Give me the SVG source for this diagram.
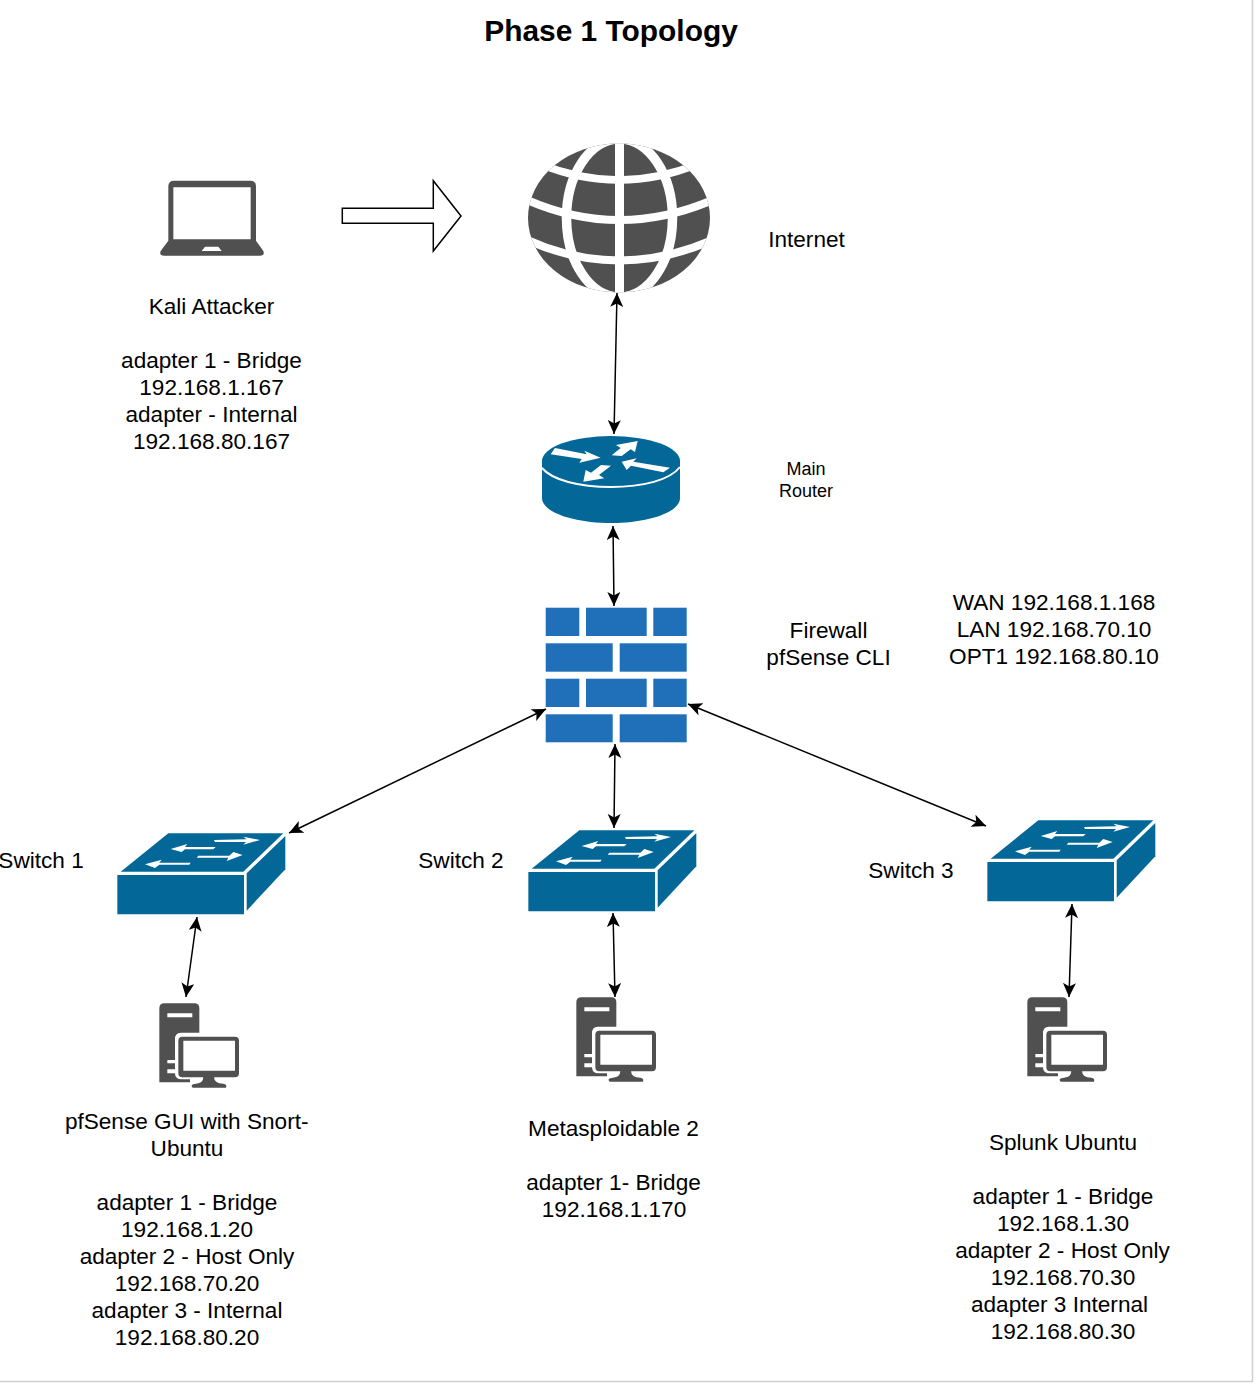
<svg xmlns="http://www.w3.org/2000/svg" xmlns:xlink="http://www.w3.org/1999/xlink" width="1258" height="1388" viewBox="0 0 1258 1388">
<style>
text{font-family:"Liberation Sans",Arial,sans-serif;font-size:22.6px;fill:#000;text-anchor:middle}
.title{font-size:29.9px;font-weight:bold}
.small{font-size:18px}
.edge{fill:none;stroke:#000;stroke-width:1.5;marker-start:url(#ah);marker-end:url(#ah)}
.sw{fill:#036897}
.w{fill:#fff}
.d{fill:#505050}
.fw{fill:#1f70b8}
</style>
<defs>
<marker id="ah" markerUnits="userSpaceOnUse" markerWidth="16" markerHeight="14" refX="14" refY="6.5" orient="auto-start-reverse"><path d="M0,0L14,6.5L0,13L3.5,6.5Z" fill="#000"/></marker>
<g id="switch" transform="scale(.33333)">
<path class="sw" d="M205,40H550L430,155H62Z"/>
<path class="sw" d="M52,165H432V283H52Z"/>
<path class="sw" d="M556,48V148L440,272V160Z"/>
<path class="w" d="M342,60L440,58L430,50L480,60L430,74L438,66L345,66Z"/>
<path class="w" d="M212,87L262,72L255,81H347L340,88H255L245,96Z"/>
<path class="w" d="M428,105L400,96L388,107H295L290,113H385L380,123Z"/>
<path class="w" d="M135,133L185,119L178,128H272L268,134H178L165,144Z"/>
</g>
<g id="pc" transform="scale(.33333)">
<path class="d" d="M58,55Q58,40 73,40H163Q178,40 178,55V128H122Q105,128 105,148V250Q105,268 125,268H150V277H58Z"/>
<path class="w" d="M82,70H157V82H82ZM82,210H105V220H82ZM82,238H105V250H82Z"/>
<path class="d" fill-rule="evenodd" d="M127,140H285Q297,140 297,152V250Q297,262 285,262H127Q115,262 115,250V152Q115,140 127,140ZM130,152V242H285V152Z"/>
<path class="d" d="M190,260H222Q222,280 250,281Q262,283 258,293H158Q148,283 168,281Q190,279 190,260Z"/>
</g>
</defs>
<path d="M1252.5,0V1381.5H0" fill="none" stroke="#d0d0d0" stroke-width="1.5"/>
<g id="title"><text class="title" x="611" y="41">Phase 1 Topology</text></g>
<g id="connectors">
<path class="edge" d="M617,293L614,434"/>
<path class="edge" d="M613,526L614,606"/>
<path class="edge" d="M546,709L289,833"/>
<path class="edge" d="M615,744L614,828"/>
<path class="edge" d="M688,704L986,826"/>
<path class="edge" d="M197,917L186,997"/>
<path class="edge" d="M613,913L615,997"/>
<path class="edge" d="M1072,904L1069,997"/>
<path d="M342.3,208.3H433.3V180.7L461,216L433.3,251V223.3H342.3Z" fill="#fff" stroke="#000" stroke-width="1.5"/>
</g>
<g id="kali">
<g transform="translate(150 170) scale(.33333)">
<path class="d" fill-rule="evenodd" d="M72,32H301Q318,32 318,49V212L340,243Q345,257 330,257H42Q27,257 32,243L55,212V49Q55,32 72,32ZM70,52V208H302V52ZM165,230L155,243H215L205,230Z"/>
</g>
<text x="211.500" y="314">Kali Attacker</text>
<text x="211.500" y="368">adapter 1 - Bridge</text>
<text x="211.500" y="395">192.168.1.167</text>
<text x="211.500" y="422">adapter - Internal</text>
<text x="211.500" y="449">192.168.80.167</text>
</g>
<g id="internet">
<clipPath id="gc"><ellipse cx="619" cy="218" rx="91" ry="74.500"/></clipPath>
<g clip-path="url(#gc)">
<rect class="d" x="525" y="140" width="190" height="156"/>
<g fill="none" stroke="#fff">
<path d="M619.500,140V296" stroke-width="9"/>
<ellipse cx="619.500" cy="218" rx="53" ry="79" stroke-width="9.500"/>
<path d="M540,164Q619,196 698,164" stroke-width="7.500"/>
<path d="M525,199Q619,241 715,199" stroke-width="8"/>
<path d="M525,239Q619,282 715,239" stroke-width="8"/>
</g>
</g>
<text x="806.500" y="247">Internet</text>
</g>
<g id="router">
<path class="sw" d="M542,461V498C542,512 573,523 611,523C649,523 680,512 680,498V461Z"/>
<ellipse class="sw" cx="611" cy="461" rx="69" ry="25"/>
<path d="M542,468C552,480 579,487 611,487C643,487 670,480 680,467" fill="none" stroke="#fff" stroke-width="2"/>
<g transform="translate(520 420) scale(.33333)">
<path class="w" d="M105,84L200,103L193,92L242,113L178,128L185,117L92,103Z"/>
<path class="w" d="M353,63L288,75L302,84L275,106L305,108L332,88L345,96Z"/>
<path class="w" d="M305,125L350,115L340,125L450,143L430,157L333,137L320,150Z"/>
<path class="w" d="M190,185L253,175L237,165L273,137L243,135L213,158L197,150Z"/>
</g>
<text class="small" x="806" y="475">Main</text>
<text class="small" x="806" y="497">Router</text>
</g>
<g id="firewall">
<g class="fw">
<rect x="545.700" y="607.700" width="33.600" height="28.300"/>
<rect x="586" y="607.700" width="60.700" height="28.300"/>
<rect x="653.300" y="607.700" width="33.400" height="28.300"/>
<rect x="545.700" y="643.300" width="67" height="28.400"/>
<rect x="619.700" y="643.300" width="67" height="28.400"/>
<rect x="545.700" y="678.700" width="33.600" height="28.300"/>
<rect x="586" y="678.700" width="60.700" height="28.300"/>
<rect x="653.300" y="678.700" width="33.400" height="28.300"/>
<rect x="545.700" y="714.300" width="67" height="28"/>
<rect x="619.700" y="714.300" width="67" height="28"/>
</g>
<text x="828.500" y="638">Firewall</text>
<text x="828.500" y="665">pfSense CLI</text>
<text x="1054" y="610">WAN 192.168.1.168</text>
<text x="1054" y="637">LAN 192.168.70.10</text>
<text x="1054" y="664">OPT1 192.168.80.10</text>
</g>
<g id="switch1">
<use href="#switch" xlink:href="#switch" x="100" y="820"/>
<text x="41" y="868">Switch 1</text>
</g>
<g id="switch2">
<use href="#switch" xlink:href="#switch" x="511" y="817"/>
<text x="461" y="868">Switch 2</text>
</g>
<g id="switch3">
<use href="#switch" xlink:href="#switch" x="970" y="807"/>
<text x="911" y="878">Switch 3</text>
</g>
<g id="pfsense-gui">
<use href="#pc" xlink:href="#pc" x="140" y="990"/>
<text x="186.700" y="1129">pfSense GUI with Snort-</text>
<text x="187" y="1156">Ubuntu</text>
<text x="187" y="1210">adapter 1 - Bridge</text>
<text x="187" y="1237">192.168.1.20</text>
<text x="187" y="1264">adapter 2 - Host Only</text>
<text x="187" y="1291">192.168.70.20</text>
<text x="187" y="1318">adapter 3 - Internal</text>
<text x="187" y="1345">192.168.80.20</text>
</g>
<g id="metasploitable">
<use href="#pc" xlink:href="#pc" x="557" y="984"/>
<text x="613.500" y="1136">Metasploidable 2</text>
<text x="613.500" y="1190">adapter 1- Bridge</text>
<text x="614" y="1217">192.168.1.170</text>
</g>
<g id="splunk">
<use href="#pc" xlink:href="#pc" x="1008" y="984"/>
<text x="1063" y="1150">Splunk Ubuntu</text>
<text x="1063" y="1204">adapter 1 - Bridge</text>
<text x="1063" y="1231">192.168.1.30</text>
<text x="1062.500" y="1258">adapter 2 - Host Only</text>
<text x="1063" y="1285">192.168.70.30</text>
<text x="1059.500" y="1312">adapter 3 Internal</text>
<text x="1063" y="1339">192.168.80.30</text>
</g>
</svg>
